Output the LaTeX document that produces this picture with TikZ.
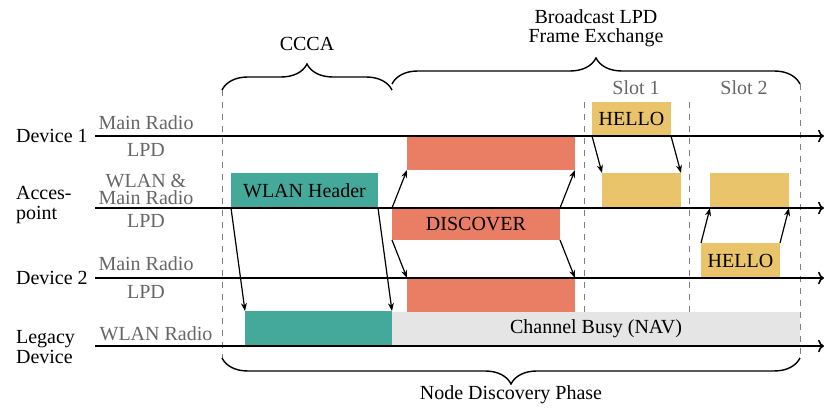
\documentclass[tikz,border=0pt]{standalone}
\usepackage{fontspec}
\setmainfont{Liberation Serif}
\usetikzlibrary{arrows.meta,decorations.pathreplacing}

\definecolor{wlanteal}{HTML}{44A99B}
\definecolor{lpdred}{HTML}{E97E65}
\definecolor{helloyellow}{HTML}{E9C46A}
\definecolor{busygray}{HTML}{E5E5E5}
\definecolor{radiogray}{HTML}{666666}

\begin{document}
\begin{tikzpicture}[x=0.5pt, y=-0.5pt,
	frame/.style={inner sep=0pt, outer sep=0pt, minimum height=17pt, anchor=north west},
	radio/.style={text=radiogray},
	timeline/.style={line width=0.8pt, -{To[length=3pt]}},
	msg/.style={line width=0.6pt, -{Stealth[length=4pt, width=3pt]}},
	slotline/.style={dashed, gray, line width=0.5pt},
	bracket/.style={decorate, decoration={brace, amplitude=13pt}, line width=0.7pt}]
	
	\useasboundingbox (0,0) rectangle (826,410);
	
	\coordinate (D1s) at (95,136);
	\coordinate (D1e) at (824,136);
	\coordinate (APs) at (95,208);
	\coordinate (APe) at (824,208);
	\coordinate (D2s) at (95,278);
	\coordinate (D2e) at (824,278);
	\coordinate (LDs) at (95,346);
	\coordinate (LDe) at (824,346);
	
	% Phase borders and slots
	\draw[slotline] (222,90) -- (222,358);
	\draw[slotline] (800,84) -- (800,358);
	\draw[slotline] (584,102) -- (584,312);
	\draw[slotline] (689,102) -- (689,312);
	
	% Frames
	\node[frame, fill=wlanteal, minimum width=73.5pt, minimum height=17.5pt] (header) at (231,173) {WLAN Header};
	\node[frame, fill=wlanteal, minimum width=73.5pt, minimum height=17.5pt] (legacy) at (245,311) {};
	\node[frame, fill=busygray, minimum width=204pt] (busy) at (392,312) {Channel Busy (NAV)};
	\node[frame, fill=lpdred, minimum width=84pt] (disc1) at (407,136) {};
	\node[frame, fill=lpdred, minimum width=84pt, minimum height=16pt] (discover) at (392,208) {DISCOVER};
	\node[frame, fill=lpdred, minimum width=84pt] (disc2) at (407,278) {};
	\node[frame, fill=helloyellow, minimum width=39.5pt] (hello1) at (592,102) {HELLO};
	\node[frame, fill=helloyellow, minimum width=39.5pt, minimum height=17.5pt] (ack1) at (602,173) {};
	\node[frame, fill=helloyellow, minimum width=39.5pt, minimum height=17.5pt] (ack2) at (710,173) {};
	\node[frame, fill=helloyellow, minimum width=39.5pt, minimum height=17.5pt] (hello2) at (701,243) {HELLO};
	
	% Time lines
	\draw[timeline] (D1s) -- (D1e);
	\draw[timeline] (APs) -- (APe);
	\draw[timeline] (D2s) -- (D2e);
	\draw[timeline] (LDs) -- (LDe);
	
	% Transmissions
	\draw[msg] (header.south west) -- (legacy.north west);
	\draw[msg] (header.south east) -- (legacy.north east);
	\draw[msg] (discover.north west) -- (disc1.south west);
	\draw[msg] (discover.north east) -- (disc1.south east);
	\draw[msg] (discover.south west) -- (disc2.north west);
	\draw[msg] (discover.south east) -- (disc2.north east);
	\draw[msg] (hello1.south west) -- (ack1.north west);
	\draw[msg] (hello1.south east) -- (ack1.north east);
	\draw[msg] (hello2.north west) -- (ack2.south west);
	\draw[msg] (hello2.north east) -- (ack2.south east);
	
	% Braces
	\draw[bracket] (222,90) -- (392,90) node[midway, above=16pt] (ccca) {CCCA};
	\draw[bracket] (392,84) -- (800,84) node[midway, above=15pt, align=center] (bcast) {Broadcast LPD\\[-2.5pt]Frame Exchange};
	\draw[bracket] (800,358) -- (222,358) node[midway, below=12.5pt, inner sep=1pt] (ndp) {Node Discovery Phase};
	
	% Slot labels
	\node[radio] (slot1) at (636,88) {Slot 1};
	\node[radio] (slot2) at (744,88) {Slot 2};
	
	% Device labels
	\node[anchor=west] (dev1) at (9,136) {Device 1};
	\node[anchor=west, align=left] (ap) at (9,205) {Acces-\\[-2pt]point};
	\node[anchor=west] (dev2) at (9,278) {Device 2};
	\node[anchor=west, align=left] (ld) at (9,347) {Legacy\\[-2pt]Device};
	
	% Radio labels
	\node[radio] (d1main) at (146,123) {Main Radio};
	\node[radio] (d1lpd) at (146,150) {LPD};
	\node[radio, align=center, inner sep=1pt] (apmain) at (146,189) {WLAN \&\\[-3.5pt]Main Radio};
	\node[radio] (aplpd) at (146,221) {LPD};
	\node[radio] (d2main) at (146,264) {Main Radio};
	\node[radio] (d2lpd) at (146,292) {LPD};
	\node[radio] (ldwlan) at (156,334) {WLAN Radio};
	
\end{tikzpicture}
\end{document}
